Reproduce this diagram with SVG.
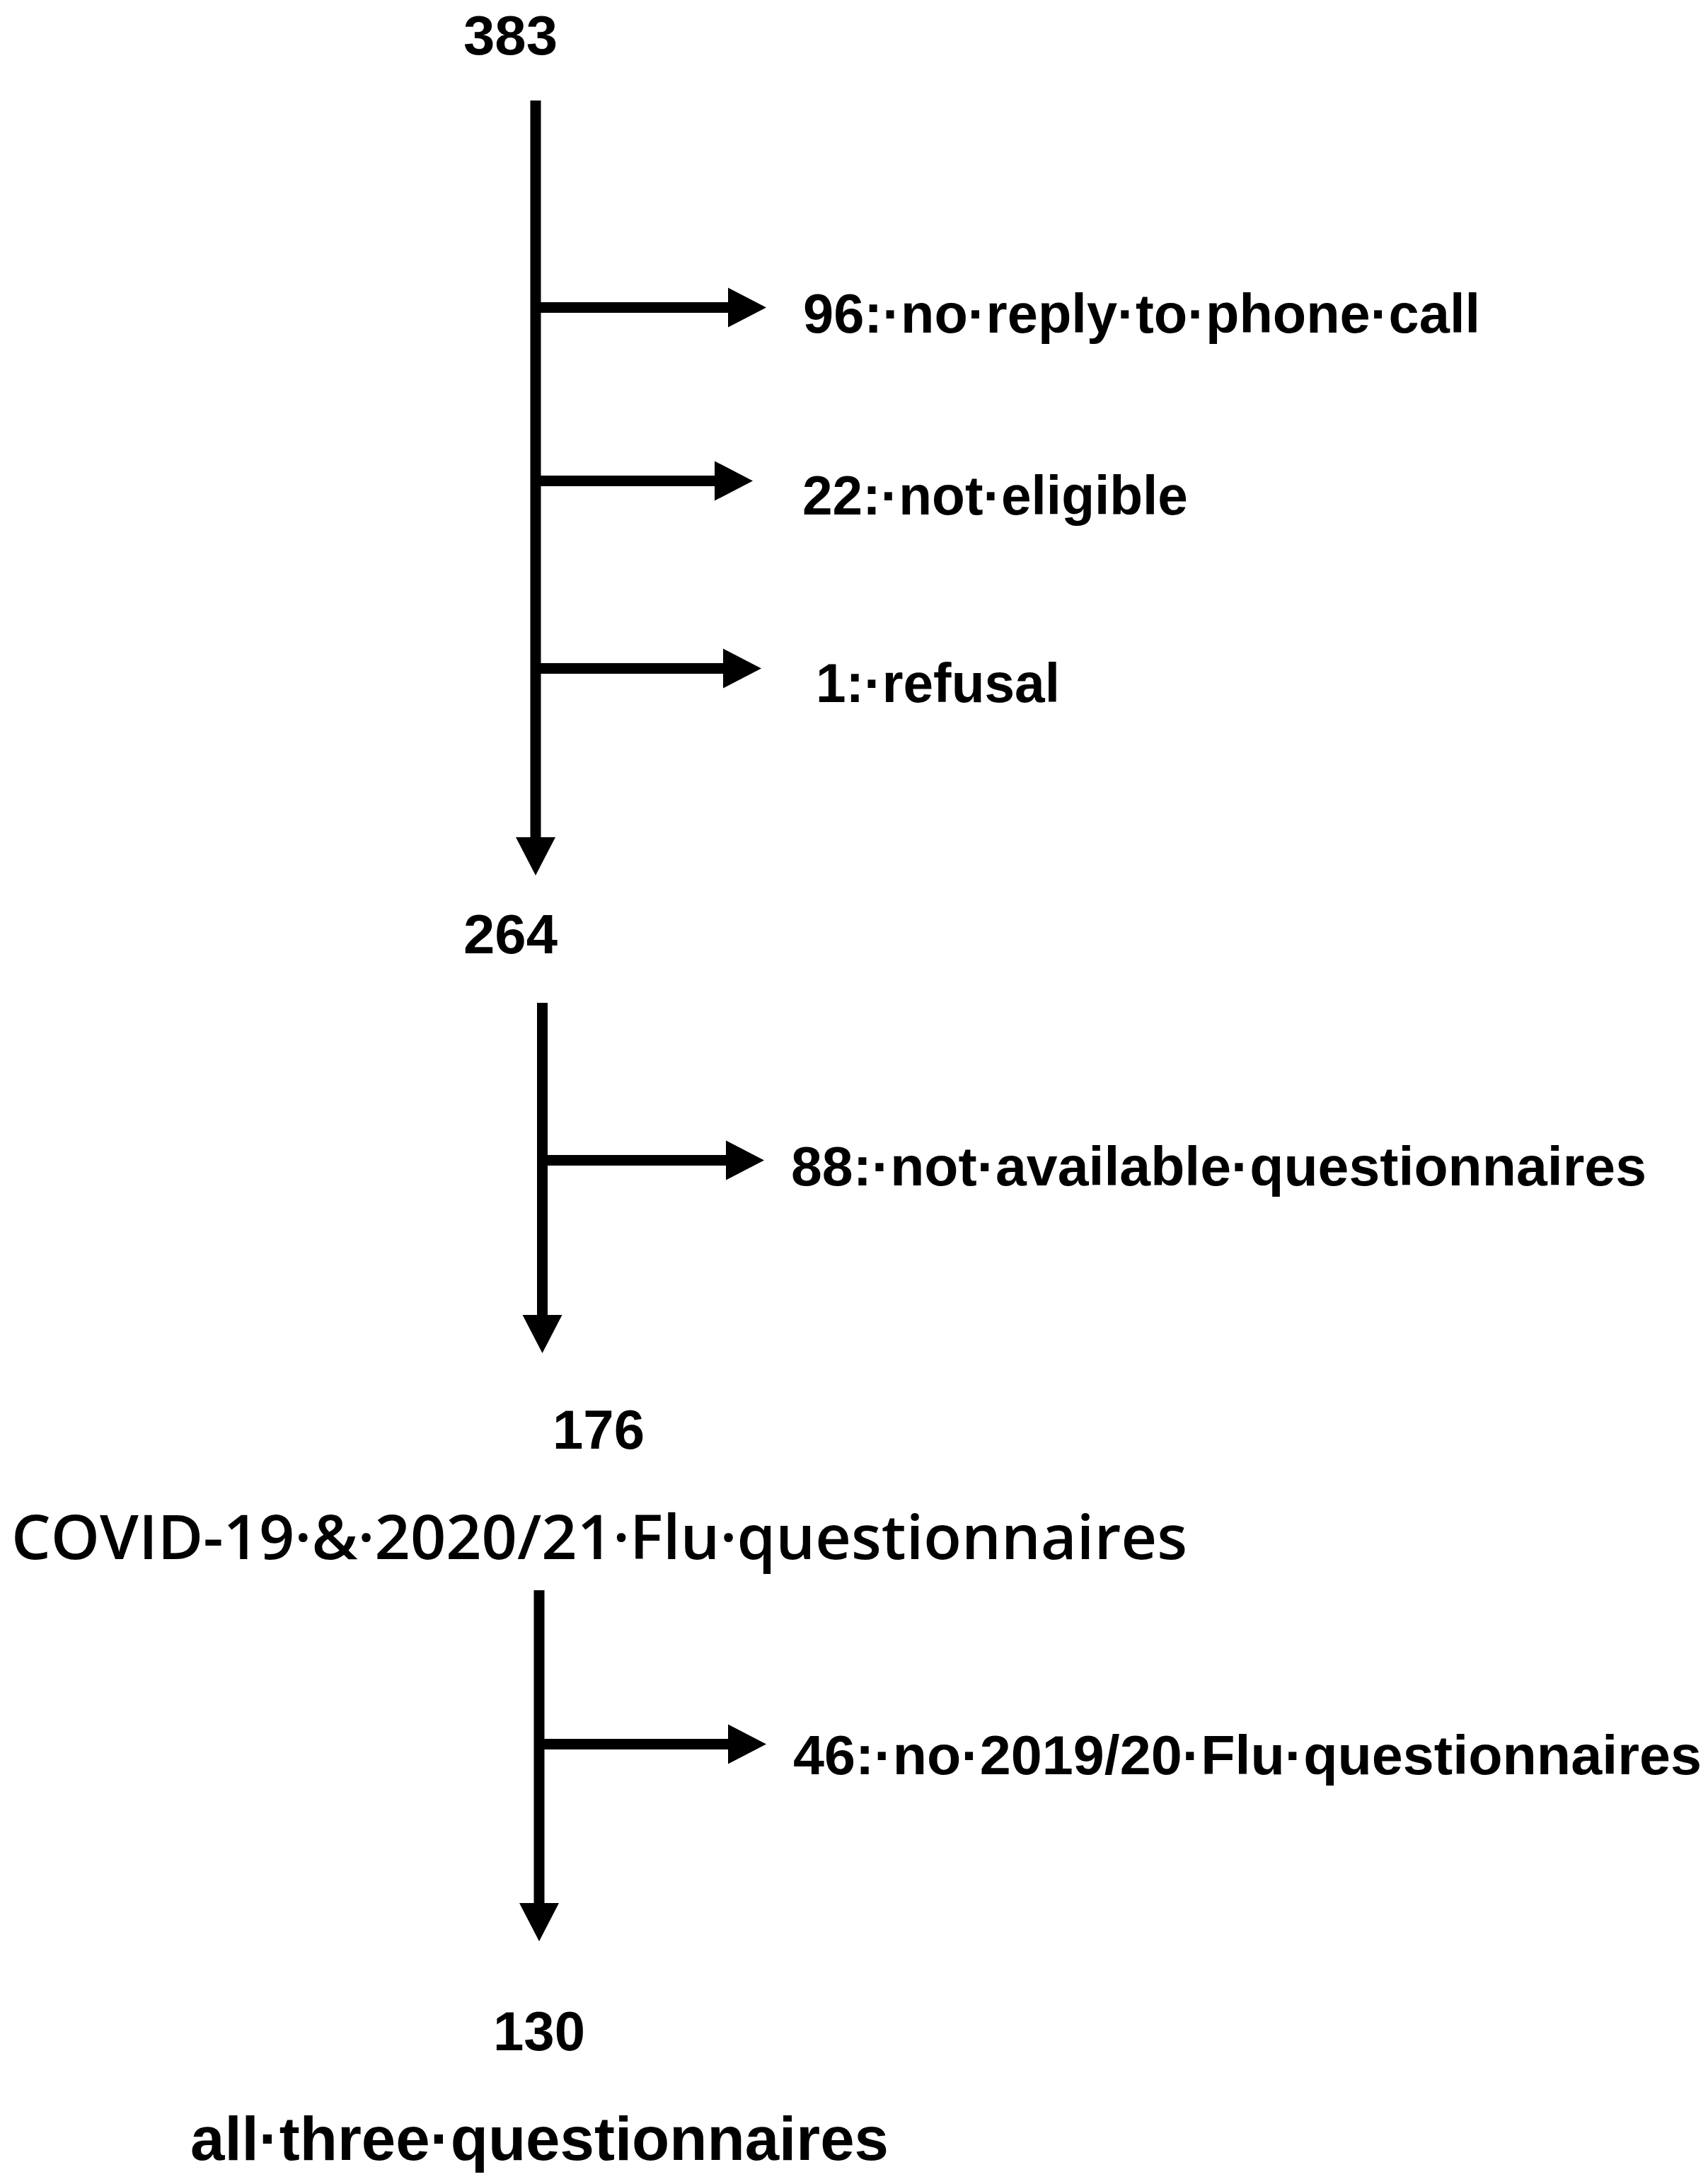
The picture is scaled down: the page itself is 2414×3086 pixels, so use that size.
<svg xmlns="http://www.w3.org/2000/svg" width="2414" height="3086" viewBox="0 0 2414 3086">
<style>
  .t { font-family: "Liberation Sans", Arial, sans-serif; font-weight: bold; font-size: 77px; fill: #000; }
  .big { font-size: 88px; }
  .semi { font-family: "Open Sans", "Liberation Sans", Arial, sans-serif; font-weight: 600; font-size: 86px; }
  .ln { stroke: #000; stroke-width: 15; fill: none; }
</style>
<defs>
  <marker id="ah" markerUnits="userSpaceOnUse" markerWidth="58" markerHeight="58" refX="1" refY="28" orient="auto" overflow="visible">
    <path d="M0,0 L54,28 L0,56 Z" fill="#000"/>
  </marker>
</defs>
<rect width="2414" height="3086" fill="#fff"/>
<g id="connectors">
  <line class="ln" x1="757" y1="142" x2="757" y2="1184" marker-end="url(#ah)"/>
  <line class="ln" x1="757" y1="434.5" x2="1030" y2="434.5" marker-end="url(#ah)"/>
  <line class="ln" x1="757" y1="679.5" x2="1011" y2="679.5" marker-end="url(#ah)"/>
  <line class="ln" x1="757" y1="944.5" x2="1023" y2="944.5" marker-end="url(#ah)"/>
  <line class="ln" x1="766.5" y1="1417" x2="766.5" y2="1859" marker-end="url(#ah)"/>
  <line class="ln" x1="766.5" y1="1639.5" x2="1027" y2="1639.5" marker-end="url(#ah)"/>
  <line class="ln" x1="762" y1="2247" x2="762" y2="2690" marker-end="url(#ah)"/>
  <line class="ln" x1="762" y1="2464.5" x2="1030" y2="2464.5" marker-end="url(#ah)"/>
</g>
<g id="n383"><text class="t" x="655" y="77" textLength="133" lengthAdjust="spacingAndGlyphs">383</text></g>
<g id="n96"><text class="t" x="1135" y="470" textLength="957" lengthAdjust="spacingAndGlyphs">96:·no·reply·to·phone·call</text></g>
<g id="n22"><text class="t" x="1134" y="727" textLength="545" lengthAdjust="spacingAndGlyphs">22:·not·eligible</text></g>
<g id="n1"><text class="t" x="1153" y="992" textLength="345" lengthAdjust="spacingAndGlyphs">1:·refusal</text></g>
<g id="n264"><text class="t" x="655" y="1347" textLength="133" lengthAdjust="spacingAndGlyphs">264</text></g>
<g id="n88"><text class="t" x="1118" y="1675" textLength="1209" lengthAdjust="spacingAndGlyphs">88:·not·available·questionnaires</text></g>
<g id="n176"><text class="t" x="781" y="2047" textLength="130" lengthAdjust="spacingAndGlyphs">176</text></g>
<g id="nCovid"><text class="t semi" x="16" y="2203" textLength="1662" lengthAdjust="spacingAndGlyphs">COVID-19·&amp;·2020/21·Flu·questionnaires</text></g>
<g id="n46"><text class="t" x="1121" y="2507" textLength="1284" lengthAdjust="spacingAndGlyphs">46:·no·2019/20·Flu·questionnaires</text></g>
<g id="n130"><text class="t" x="697" y="2897" textLength="130" lengthAdjust="spacingAndGlyphs">130</text></g>
<g id="nAll"><text class="t big" x="269" y="3052" textLength="987" lengthAdjust="spacingAndGlyphs">all·three·questionnaires</text></g>
</svg>
